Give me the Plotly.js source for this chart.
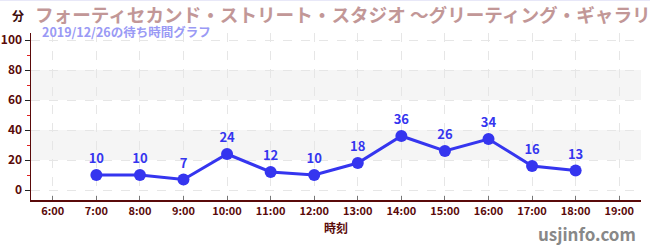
<!DOCTYPE html>
<html><head><meta charset="utf-8">
<script src="https://cdn.plot.ly/plotly-3.0.1.min.js"></script>
<style>html,body{margin:0;padding:0;background:#fff}#chart{width:650px;height:250px}</style>
</head><body><div id="chart"></div>
<script>
const hours = ["6:00","7:00","8:00","9:00","10:00","11:00","12:00","13:00","14:00","15:00","16:00","17:00","18:00","19:00"];
const waitMinutes = [null,10,10,7,24,12,10,18,36,26,34,16,13,null];
const yTicks = [0,20,40,60,80,100];
const bands = [[20,40],[60,80]];
const titleText = "フォーティセカンド・ストリート・スタジオ ～グリーティング・ギャラリー";
const subtitleText = "2019/12/26の待ち時間グラフ";
const yUnit = "分";
const xTitle = "時刻";
const siteText = "usjinfo.com";

const F = '"Noto Sans CJK JP", "Noto Sans", sans-serif';
const axisColor = '#5a0a0a';
const lineColor = '#3535ef';

const trace = {
  x: hours, y: waitMinutes, type: 'scatter', mode: 'lines+markers+text',
  text: waitMinutes.map(v => v == null ? '' : String(v)),
  textposition: 'top center',
  textfont: {family: F, size: 13, color: lineColor, weight: 'bold'},
  line: {color: lineColor, width: 3},
  marker: {color: lineColor, size: 12},
  connectgaps: false, cliponaxis: false, hoverinfo: 'none'
};

const shapes = bands.map(b => ({type:'rect', xref:'paper', yref:'y', x0:0, x1:1, y0:b[0], y1:b[1], fillcolor:'#f5f5f5', line:{width:0}, layer:'below'}));
shapes.push({type:'line', xref:'paper', yref:'paper', x0:-0.1, x1:1.1, y0:1.195, y1:1.195, line:{color:'#e6e6f8', width:1}});

const layout = {
  width: 650, height: 250,
  margin: {l: 31, r: 9, t: 33, b: 50},
  paper_bgcolor: '#fff', plot_bgcolor: 'rgba(0,0,0,0)',
  showlegend: false,
  font: {family: F},
  xaxis: {
    type: 'category', range: [-0.5, 13.5],
    showline: true, linecolor: axisColor, linewidth: 1.5,
    ticks: 'inside', ticklen: 4, tickcolor: '#777', tickwidth: 1,
    tickfont: {family: F, size: 11, color: axisColor, weight: 'bold'},
    showgrid: true, gridcolor: '#e6e6e6', griddash: 'dash', gridwidth: 1,
    zeroline: false, fixedrange: true,
    title: {text: xTitle, font: {family: F, size: 12, color: axisColor, weight: 'bold'}, standoff: 8}
  },
  yaxis: {
    range: [-6.67, 104.67],
    tickvals: yTicks,
    showline: true, linecolor: axisColor, linewidth: 1.5,
    ticks: 'outside', ticklen: 5, tickcolor: '#222', tickwidth: 1,
    tickfont: {family: F, size: 12, color: axisColor, weight: 'bold'},
    showgrid: true, gridcolor: '#e6e6e6', griddash: 'dash', gridwidth: 1,
    zeroline: false, fixedrange: true,
    minor: {tickvals: [10,30,50,70,90], ticks: 'outside', ticklen: 3, tickcolor: '#e02020', showgrid: false}
  },
  shapes: shapes,
  annotations: [
    {text: titleText, xref:'paper', yref:'paper', x: 0.003, y: 1.114, xanchor:'left', yanchor:'middle', showarrow:false,
     font:{family:F, size:18.6, color:'#c29797', weight:'bold'}},
    {text: subtitleText, xref:'paper', yref:'paper', x: 0.014, y: 1.006, xanchor:'left', yanchor:'middle', showarrow:false,
     font:{family:F, size:12.5, color:'#9a9af5', weight:'bold'}},
    {text: yUnit, xref:'paper', yref:'paper', x: -0.008, y: 1.102, xanchor:'right', yanchor:'middle', showarrow:false,
     font:{family:F, size:12, color:'#3a0a0a', weight:'bold'}},
    {text: siteText, xref:'paper', yref:'paper', x: 0.995, y: -0.198, xanchor:'right', yanchor:'middle', showarrow:false,
     font:{family:F, size:17, color:'#888', weight:'bold'}}
  ]
};
Plotly.newPlot('chart', [trace], layout, {displayModeBar:false, staticPlot:true});
</script></body></html>
